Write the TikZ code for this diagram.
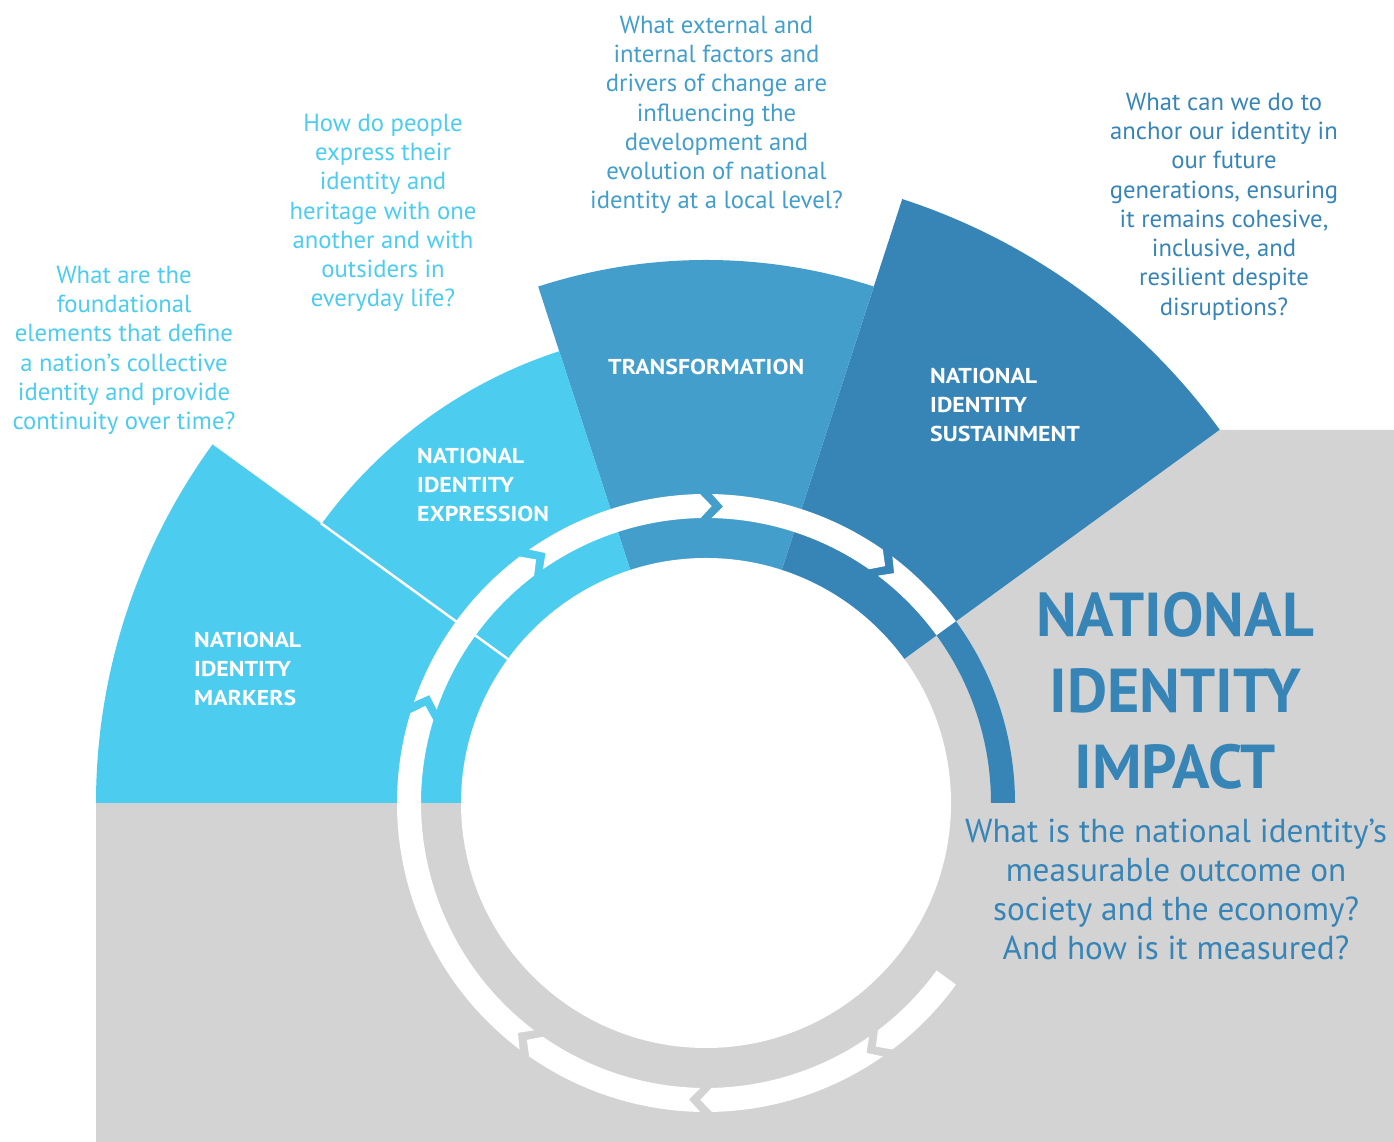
\documentclass[tikz,border=0pt]{standalone}
\usepackage{fontspec}
\setmainfont{PT Sans}
\newfontfamily\labelfont[FakeStretch=1.11]{PT Sans}
\definecolor{lightblue}{RGB}{76,204,239}
\definecolor{midblue}{RGB}{67,158,203}
\definecolor{darkblue}{RGB}{55,133,183}
\definecolor{graybg}{RGB}{211,211,211}
\newcommand\mytopstrut{\rule{0pt}{0.8em}}
% white arrow segment of the ring: notch at #1, point at #2 (clockwise)
\newcommand\ringseg[2]{%
  \fill[white] ({#1-1.1}:309pt) arc[start angle={#1-1.1}, end angle={#2+1.1}, radius=309pt]
    -- ({#2-1.1}:297pt) -- ({#2+1.1}:285pt)
    arc[start angle={#2+1.1}, end angle={#1-1.1}, radius=285pt]
    -- ({#1-3.3}:297pt) -- cycle;}
\begin{document}
\begin{tikzpicture}[x=1pt,y=1pt,
  question/.style={font=\fontsize{24.7}{29.3}\selectfont, align=center, inner sep=0pt, anchor=north},
  bigquestion/.style={font=\fontsize{33.2}{39}\selectfont, align=center, inner sep=0pt, anchor=north, text=darkblue},
  petallabel/.style={font=\labelfont\bfseries\fontsize{21.5}{29}\selectfont, align=left, inner sep=0pt, anchor=north west, text=white},
  titlestyle/.style={font=\bfseries\fontsize{62}{76}\selectfont, align=center, inner sep=0pt, anchor=north, text=darkblue}]
\useasboundingbox (0,0) rectangle (1394,1142);
\fill[white] (0,0) rectangle (1394,1142);
% gray background region
\fill[graybg] (96,339) -- (96,0) -- (1394,0) -- (1394,712) -- (1219.4,712) -- (706,339) -- cycle;
\begin{scope}[shift={(706,339)}]
  % petals
  \fill[darkblue] (0,0) -- (36:635pt) arc[start angle=36, end angle=72, radius=635pt] -- cycle;
  \fill[midblue] (0,0) -- (72:543pt) arc[start angle=72, end angle=108, radius=543pt] -- cycle;
  \fill[lightblue] (0,0) -- (108:475pt) arc[start angle=108, end angle=144, radius=475pt] -- cycle;
  \fill[lightblue] (0,0) -- (144:610pt) arc[start angle=144, end angle=180, radius=610pt] -- cycle;
  \draw[white, line width=2.5pt] (144:245pt) -- (144:476pt);
  % arrow ring
  \ringseg{234}{162}
  \ringseg{162}{126}
  \ringseg{126}{90}
  \ringseg{90}{54}
  \fill[white] ({54-1.1}:309pt) arc[start angle=52.9, end angle=36, radius=309pt]
    -- (36:285pt) arc[start angle=36, end angle=52.9, radius=285pt] -- ({54-3.3}:297pt) -- cycle;
  \fill[white] (-36:309pt) arc[start angle=-36, end angle=-52.9, radius=309pt]
    -- ({-54-1.1}:297pt) -- ({-54+1.1}:285pt) arc[start angle=-52.9, end angle=-36, radius=285pt] -- cycle;
  \ringseg{-54}{-90}
  \ringseg{-90}{-126}
  \fill[darkblue] (0:285pt) arc[start angle=0, end angle=36, radius=285pt]
    -- (36:309pt) arc[start angle=36, end angle=0, radius=309pt] -- cycle;
  % central white disc
  \fill[white] (0,0) circle[radius=245pt];
\end{scope}
% questions
\node[question, text=lightblue] (q1) at (124,878.8) {\mytopstrut What are the\\foundational\\elements that define\\a nation’s collective\\identity and provide\\continuity over time?};
\node[question, text=lightblue] (q2) at (383,1030.8) {\mytopstrut How do people\\express their\\identity and\\heritage with one\\another and with\\outsiders in\\everyday life?};
\node[question, text=midblue] (q3) at (716.5,1128.8) {\mytopstrut What external and\\internal factors and\\drivers of change are\\influencing the\\development and\\evolution of national\\identity at a local level?};
\node[question, text=darkblue] (q4) at (1224,1051.8) {\mytopstrut What can we do to\\anchor our identity in\\our future\\generations, ensuring\\it remains cohesive,\\inclusive, and\\resilient despite\\disruptions?};
\node[bigquestion] (q5) at (1176,326.6) {\mytopstrut What is the national identity’s\\measurable outcome on\\society and the economy?\\And how is it measured?};
% title
\node[titlestyle] (title) at (1175,555.6) {\mytopstrut NATIONAL\\IDENTITY\\IMPACT};
% petal labels
\node[petallabel] (lmark) at (194,512) {\mytopstrut NATIONAL\\IDENTITY\\MARKERS};
\node[petallabel] (lexp) at (417,696) {\mytopstrut NATIONAL\\IDENTITY\\EXPRESSION};
\node[petallabel] (ltrans) at (608,785) {\mytopstrut TRANSFORMATION};
\node[petallabel] (lsust) at (930,776) {\mytopstrut NATIONAL\\IDENTITY\\SUSTAINMENT};
\end{tikzpicture}
\end{document}
